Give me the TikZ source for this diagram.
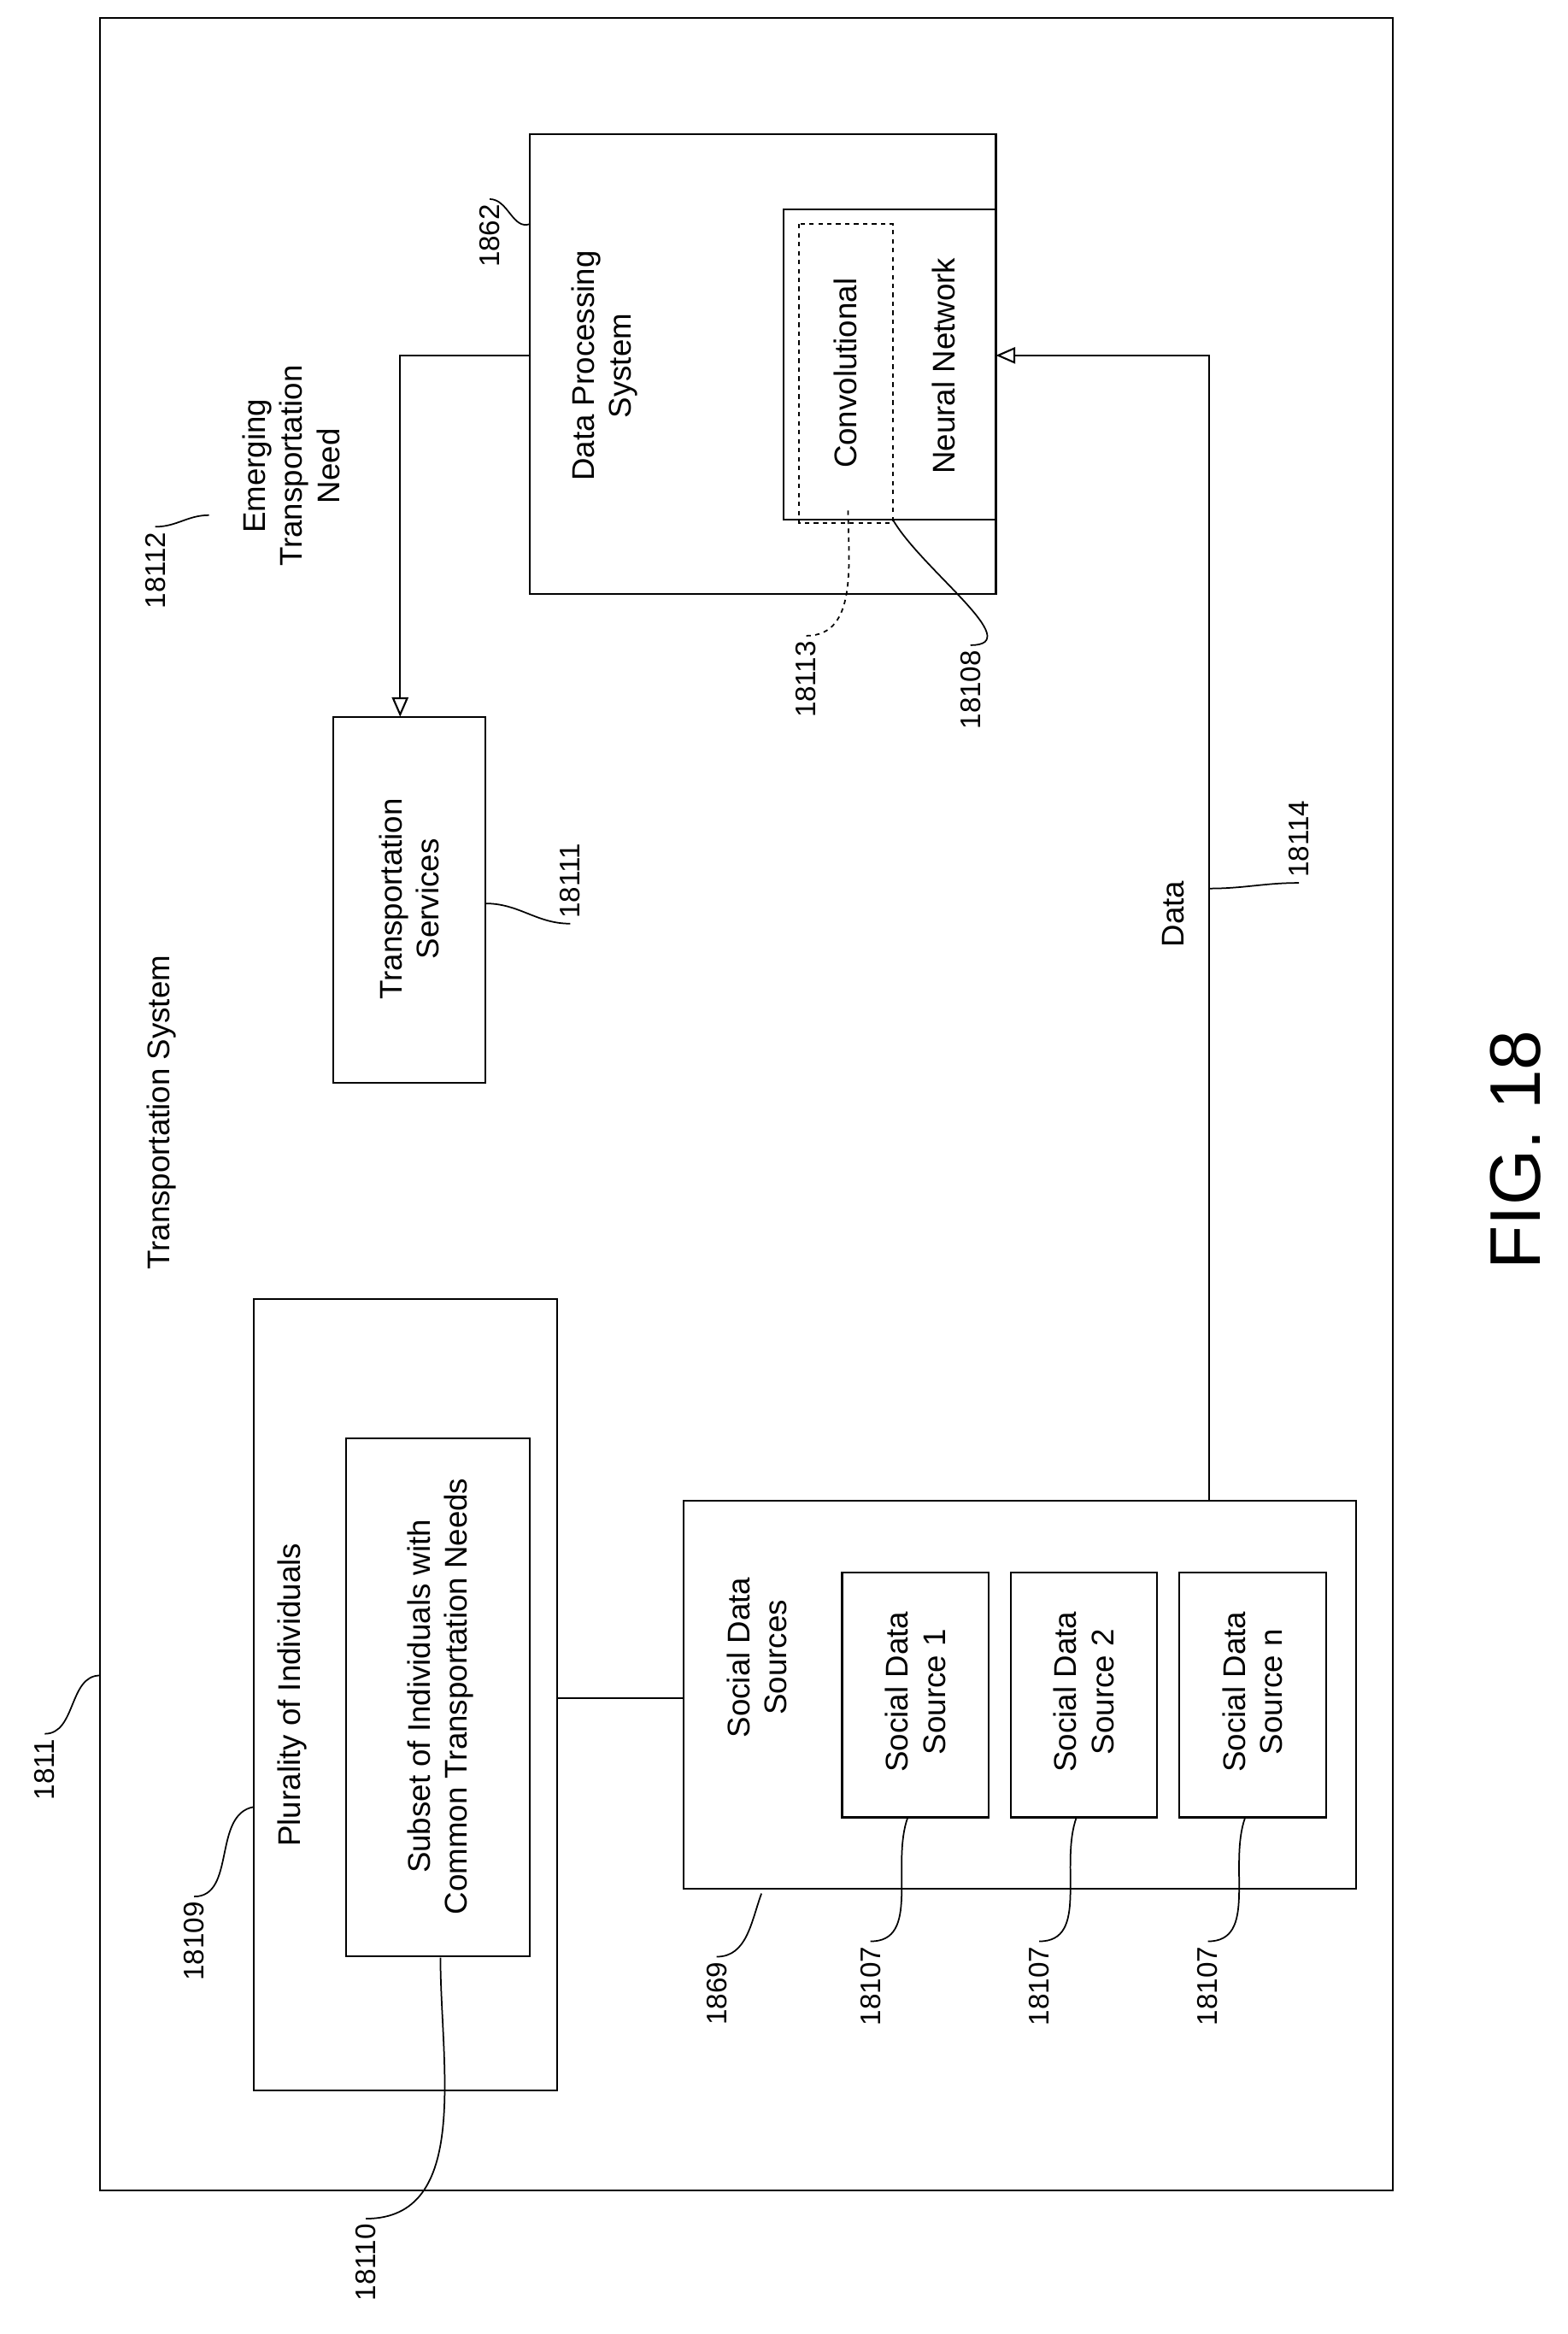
\documentclass[tikz,border=0pt]{standalone}
\usepackage{fontspec}
\setmainfont{Liberation Sans}
\usetikzlibrary{arrows.meta}
\tikzset{
  box/.style={draw, line width=1.2pt},
  txt/.style={rotate=90, align=center, font=\fontsize{21}{25}\selectfont},
  lbl/.style={rotate=90, font=\fontsize{19}{23}\selectfont},
  lead/.style={line width=1pt},
  flow/.style={line width=1.2pt, -{Triangle[open, length=13pt, width=11pt]}}
}
\begin{document}
\begin{tikzpicture}[x=1pt,y=1pt]
\useasboundingbox (0,0) rectangle (1050,-1563);
% frame
\draw[box] (67,-12) rectangle (933,-1467);
\node (ts) [txt] at (108,-745) {Transportation System};
\node (l1811) [lbl] at (30,-1185) {1811};
\draw[lead] (l1811.east) to[out=0,in=180] (67,-1122);
% data processing system
\draw[box] (355,-90) rectangle (667,-398);
\draw[box] (525,-140) rectangle (667,-348);
\draw[line width=1.2pt, dashed] (535,-150) rectangle (598,-350);
\node (dps) [txt] at (405,-245) {Data Processing\\System};
\node (conv) [txt] at (566,-250) {Convolutional};
\node (nn) [txt] at (632,-245) {Neural Network};
\coordinate (dpsw) at (355,-238);
\coordinate (nne) at (667,-238);
\node (l1862) [lbl] at (328,-158) {1862};
\draw[lead] (l1862.east) to[out=0,in=200] (355,-150);
\node (l18113) [lbl] at (540,-455) {18113};
\draw[lead, dashed] (l18113.east) to[out=0,in=270] (568,-340);
\node (l18108) [lbl] at (650,-462) {18108};
\draw[lead] (l18108.east) to[out=0,in=300] (598,-348);
% transportation services
\draw[box] (223,-480) rectangle (325,-725);
\node (tsv) [txt] at (274,-602) {Transportation\\Services};
\coordinate (tsn) at (268,-480);
\draw[flow] (dpsw) -| (tsn);
\node (need) [txt] at (195,-312) {Emerging\\Transportation\\Need};
\node (l18112) [lbl] at (104,-382) {18112};
\draw[lead] (l18112.east) to[out=0,in=180] (140,-345);
\node (l18111) [lbl] at (382,-590) {18111};
\draw[lead] (l18111.west) to[out=180,in=0] (325,-605);
% individuals
\draw[box] (170,-870) rectangle (373,-1400);
\draw[box] (232,-963) rectangle (355,-1310);
\node (plur) [txt] at (196,-1135) {Plurality of Individuals};
\node (sub) [txt] at (295,-1136) {Subset of Individuals with\\Common Transportation Needs};
\node (l18109) [lbl] at (130,-1300) {18109};
\draw[lead] (l18109.east) to[out=0,in=190] (170,-1210);
\node (l18110) [lbl] at (245,-1515) {18110};
\draw[lead] (l18110.east) to[out=0,in=270] (295,-1311);
% social data sources
\draw[box] (458,-1005) rectangle (908,-1265);
\node (sds) [txt] at (507,-1110) {Social Data\\Sources};
\foreach \x/\n in {564/1, 677/2, 790/n} {
  \draw[box] (\x,-1053) rectangle (\x+98,-1217);
  \node (src\n) [txt] at (\x+49,-1133) {Social Data\\Source \n};
  \node (l18107\n) [lbl] at (\x+19,-1330) {18107};
  \draw[lead] (l18107\n.east) to[out=0,in=250] (\x+44,-1217);
}
\node (l1869) [lbl] at (480,-1335) {1869};
\draw[lead] (l1869.east) to[out=0,in=250] (510,-1268);
\draw[line width=1.2pt] (373,-1137) -- (458,-1137);
% data flow
\coordinate (sdsn) at (810,-1005);
\draw[flow] (sdsn) |- (nne);
\node (data) [txt] at (786,-612) {Data};
\node (l18114) [lbl] at (870,-562) {18114};
\draw[lead] (l18114.west) to[out=180,in=0] (810,-595);
% figure label
\node (fig) [rotate=90, font=\fontsize{48}{56}\selectfont] at (1015,-770) {FIG. 18};
\end{tikzpicture}
\end{document}
